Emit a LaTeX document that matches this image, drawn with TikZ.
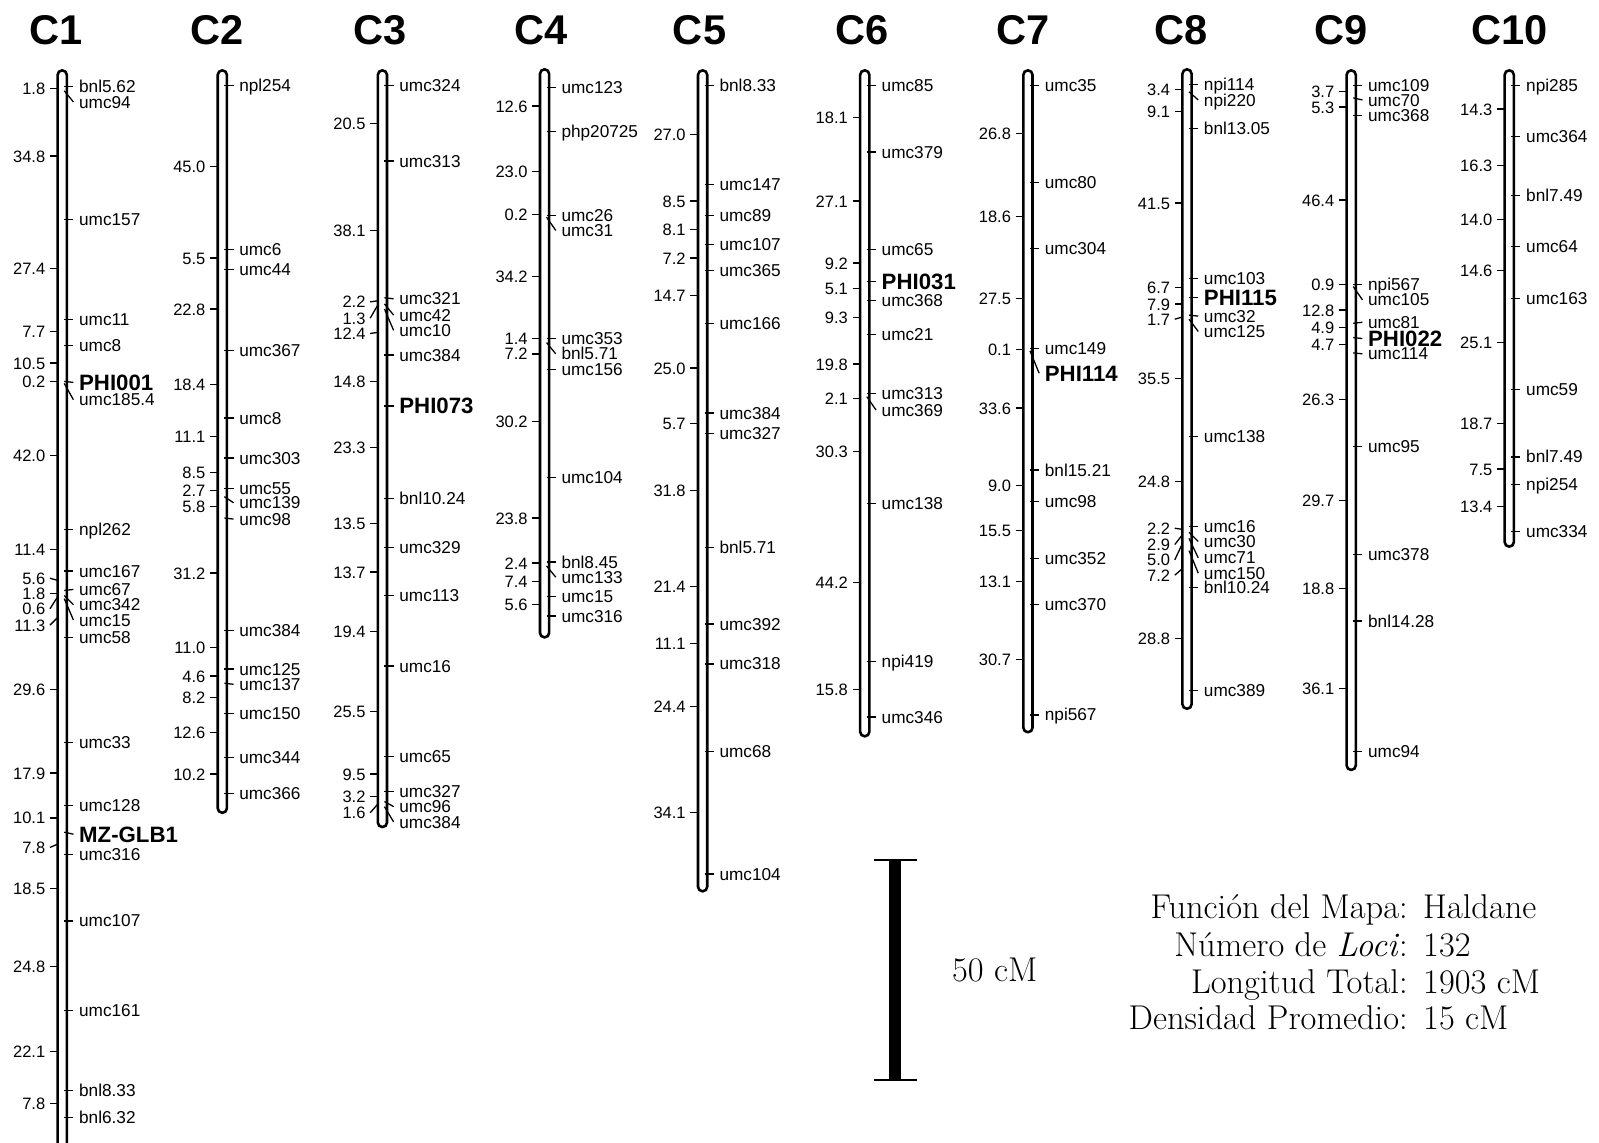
\documentclass[tikz,border=0pt]{standalone}
\usepackage{fontspec}
\setsansfont{Liberation Sans}
\usetikzlibrary{positioning}
\newcommand\bmk[1]{\raisebox{-1.3pt}{\fontsize{15.5}{16}\selectfont\bfseries #1}}
\tikzset{
  every picture/.style={font=\sffamily, line width=0.9pt},
  chrom/.style={draw, fill=white, line width=1.8pt, rounded corners=1.1mm},
  tick/.style={line width=0.9pt},
  locus/.style={font=\sffamily\fontsize{12}{13}\selectfont, anchor=base west, inner sep=0pt},
  dist/.style={font=\sffamily\fontsize{11.5}{12}\selectfont, anchor=base east, inner sep=0pt},
  title/.style={font=\sffamily\bfseries\fontsize{29}{30}\selectfont},
  legend/.style={font=\rmfamily\fontsize{24}{26}\selectfont, inner sep=0pt},
  scalebar/.style={line width=8.5pt},
}

\begin{document}
\begin{tikzpicture}[x=0.025cm, y=-0.025cm]
  \useasboundingbox (0,0) rectangle (1568,1120);
  \clip (0,0) rectangle (1568,1120);
  % chromosome titles
  \foreach \c/\x in {1/55, 2/213, 3/373, 4/531, 5/686, 6/845, 7/1003, 8/1158, 9/1315, 10/1480}
    \node[title] (t\c) at (\x, 30) {C\c};
  % C1
  \begin{scope}[shift={(61,0)}]
  \draw[chrom] (-4.5,69) rectangle (4.5,1140);
  \foreach \m/\t/\y [count=\i] in {bnl5.62/85/85, umc94/89/100, umc157/215/215, umc11/313/313, umc8/339/339, \bmk{PHI001}/374/375, umc185.4/376/392, npl262/519/519, umc167/560/560, umc67/579/578, umc342/584/593, umc15/587/608, umc58/625/625, umc33/728/728, umc128/790/790, \bmk{MZ-GLB1}/816/818, umc316/838/838, umc107/903/903, umc161/991/991, bnl8.33/1069/1069, bnl6.32/1096/1096} {
    \draw[tick] (2,\t) -- (11,\y);
    \node[locus] (c1m\i) at (16,\y+6) {\m};
  }
  \foreach \d/\y/\t [count=\i] in {1.8/87/87, 34.8/153/153, 27.4/263/263, 7.7/325/325, 10.5/356/356, 0.2/374/374, 42.0/447/447, 11.4/539/539, 5.6/567/569, 1.8/582/582, 0.6/597/586, 11.3/613/606, 29.6/676/676, 17.9/758/758, 10.1/802/802, 7.8/831/828, 18.5/871/871, 24.8/948/948, 22.1/1031/1031, 7.8/1082/1082} {
    \draw[tick] (-12,\y) -- (-5,\t);
    \node[dist] (c1d\i) at (-16,\y+6) {\d};
  }
  \end{scope}
  % C2
  \begin{scope}[shift={(218,0)}]
  \draw[chrom] (-4.5,69) rectangle (4.5,797);
  \foreach \m/\t/\y [count=\i] in {npl254/84/84, umc6/245/245, umc44/264/264, umc367/344/344, umc8/410/410, umc303/449/449, umc55/479/479, umc139/487/493, umc98/508/509, umc384/618/618, umc125/656/656, umc137/670/671, umc150/700/700, umc344/743/743, umc366/778/778} {
    \draw[tick] (2,\t) -- (11,\y);
    \node[locus] (c2m\i) at (16,\y+6) {\m};
  }
  \foreach \d/\y/\t [count=\i] in {45.0/163/163, 5.5/253/253, 22.8/303/303, 18.4/377/377, 11.1/428/428, 8.5/463/463, 2.7/481/481, 5.8/497/497, 31.2/562/562, 11.0/635/635, 4.6/663/663, 8.2/684/684, 12.6/718/718, 10.2/759/759} {
    \draw[tick] (-12,\y) -- (-5,\t);
    \node[dist] (c2d\i) at (-16,\y+6) {\d};
  }
  \end{scope}
  % C3
  \begin{scope}[shift={(375,0)}]
  \draw[chrom] (-4.5,69) rectangle (4.5,811);
  \foreach \m/\t/\y [count=\i] in {umc324/84/84, umc313/158/158, umc321/292/293, umc42/298/309, umc10/303/324, umc384/348/348, \bmk{PHI073}/398/398, bnl10.24/489/489, umc329/537/537, umc113/584/584, umc16/653/653, umc65/742/742, umc327/776/776, umc96/786/791, umc384/791/806} {
    \draw[tick] (2,\t) -- (11,\y);
    \node[locus] (c3m\i) at (16,\y+6) {\m};
  }
  \foreach \d/\y/\t [count=\i] in {20.5/121/121, 38.1/226/226, 2.2/296/295, 1.3/312/300, 12.4/327/326, 14.8/374/374, 23.3/439/439, 13.5/513/513, 13.7/561/561, 19.4/619/619, 25.5/698/698, 9.5/759/759, 3.2/781/781, 1.6/797/789} {
    \draw[tick] (-12,\y) -- (-5,\t);
    \node[dist] (c3d\i) at (-16,\y+6) {\d};
  }
  \end{scope}
  % C4
  \begin{scope}[shift={(534,0)}]
  \draw[chrom] (-4.5,68) rectangle (4.5,625);
  \foreach \m/\t/\y [count=\i] in {umc123/86/86, php20725/129/129, umc26/211/211, umc31/213/226, umc353/332/332, bnl5.71/336/347, umc156/362/362, umc104/468/468, bnl8.45/551/551, umc133/555/566, umc15/585/585, umc316/604/604} {
    \draw[tick] (2,\t) -- (11,\y);
    \node[locus] (c4m\i) at (16,\y+6) {\m};
  }
  \foreach \d/\y/\t [count=\i] in {12.6/104/104, 23.0/168/168, 0.2/210/210, 34.2/271/271, 1.4/332/332, 7.2/347/347, 30.2/413/413, 23.8/508/508, 2.4/552/552, 7.4/570/570, 5.6/593/593} {
    \draw[tick] (-12,\y) -- (-5,\t);
    \node[dist] (c4d\i) at (-16,\y+6) {\d};
  }
  \end{scope}
  % C5
  \begin{scope}[shift={(689,0)}]
  \draw[chrom] (-4.5,69) rectangle (4.5,874);
  \foreach \m/\t/\y [count=\i] in {bnl8.33/84/84, umc147/181/181, umc89/211/211, umc107/240/240, umc365/265/265, umc166/317/317, umc384/405/405, umc327/425/425, bnl5.71/537/537, umc392/612/612, umc318/651/651, umc68/737/737, umc104/857/857} {
    \draw[tick] (2,\t) -- (11,\y);
    \node[locus] (c5m\i) at (16,\y+6) {\m};
  }
  \foreach \d/\y/\t [count=\i] in {27.0/132/132, 8.5/197/197, 8.1/225/225, 7.2/253/253, 14.7/290/290, 25.0/361/361, 5.7/415/415, 31.8/481/481, 21.4/575/575, 11.1/631/631, 24.4/693/693, 34.1/797/797} {
    \draw[tick] (-12,\y) -- (-5,\t);
    \node[dist] (c5d\i) at (-16,\y+6) {\d};
  }
  \end{scope}
  % C6
  \begin{scope}[shift={(848,0)}]
  \draw[chrom] (-4.5,69) rectangle (4.5,722);
  \foreach \m/\t/\y [count=\i] in {umc85/84/84, umc379/149/149, umc65/245/245, \bmk{PHI031}/276/276, umc368/295/295, umc21/328/328, umc313/386/386, umc369/389/402, umc138/494/494, npi419/649/649, umc346/703/703} {
    \draw[tick] (2,\t) -- (11,\y);
    \node[locus] (c6m\i) at (16,\y+6) {\m};
  }
  \foreach \d/\y/\t [count=\i] in {18.1/115/115, 27.1/197/197, 9.2/258/258, 5.1/283/283, 9.3/311/311, 19.8/357/357, 2.1/391/391, 30.3/443/443, 44.2/571/571, 15.8/676/676} {
    \draw[tick] (-12,\y) -- (-5,\t);
    \node[dist] (c6d\i) at (-16,\y+6) {\d};
  }
  \end{scope}
  % C7
  \begin{scope}[shift={(1008,0)}]
  \draw[chrom] (-4.5,69) rectangle (4.5,718);
  \foreach \m/\t/\y [count=\i] in {umc35/84/84, umc80/179/179, umc304/244/244, umc149/342/342, \bmk{PHI114}/344/366, bnl15.21/461/461, umc98/492/492, umc352/548/548, umc370/593/593, npi567/701/701} {
    \draw[tick] (2,\t) -- (11,\y);
    \node[locus] (c7m\i) at (16,\y+6) {\m};
  }
  \foreach \d/\y/\t [count=\i] in {26.8/131/131, 18.6/212/212, 27.5/293/293, 0.1/343/343, 33.6/400/400, 9.0/476/476, 15.5/520/520, 13.1/570/570, 30.7/647/647} {
    \draw[tick] (-12,\y) -- (-5,\t);
    \node[dist] (c7d\i) at (-16,\y+6) {\d};
  }
  \end{scope}
  % C8
  \begin{scope}[shift={(1164,0)}]
  \draw[chrom] (-4.5,68) rectangle (4.5,695);
  \foreach \m/\t/\y [count=\i] in {npi114/83/83, npi220/90/98, bnl13.05/126/126, umc103/273/273, \bmk{PHI115}/292/292, umc32/309/310, umc125/313/325, umc138/428/428, umc16/516/516, umc30/522/531, umc71/528/547, umc150/540/562, bnl10.24/576/576, umc389/677/677} {
    \draw[tick] (2,\t) -- (11,\y);
    \node[locus] (c8m\i) at (16,\y+6) {\m};
  }
  \foreach \d/\y/\t [count=\i] in {3.4/88/88, 9.1/109/109, 41.5/199/199, 6.7/282/282, 7.9/298/298, 1.7/313/311, 35.5/371/371, 24.8/472/472, 2.2/518/519, 2.9/534/525, 5.0/549/534, 7.2/564/558, 28.8/626/626} {
    \draw[tick] (-12,\y) -- (-5,\t);
    \node[dist] (c8d\i) at (-16,\y+6) {\d};
  }
  \end{scope}
  % C9
  \begin{scope}[shift={(1325,0)}]
  \draw[chrom] (-4.5,69) rectangle (4.5,755);
  \foreach \m/\t/\y [count=\i] in {umc109/84/84, umc70/96/98, umc368/113/113, npi567/279/279, umc105/281/294, umc81/317/316, \bmk{PHI022}/331/332, umc114/346/347, umc95/438/438, umc378/544/544, bnl14.28/609/609, umc94/737/737} {
    \draw[tick] (2,\t) -- (11,\y);
    \node[locus] (c9m\i) at (16,\y+6) {\m};
  }
  \foreach \d/\y/\t [count=\i] in {3.7/90/90, 5.3/105/105, 46.4/196/196, 0.9/279/279, 12.8/304/304, 4.9/321/321, 4.7/338/338, 26.3/392/392, 29.7/491/491, 18.8/577/577, 36.1/675/675} {
    \draw[tick] (-12,\y) -- (-5,\t);
    \node[dist] (c9d\i) at (-16,\y+6) {\d};
  }
  \end{scope}
  % C10
  \begin{scope}[shift={(1480,0)}]
  \draw[chrom] (-4.5,69) rectangle (4.5,536);
  \foreach \m/\t/\y [count=\i] in {npi285/84/84, umc364/134/134, bnl7.49/192/192, umc64/242/242, umc163/293/293, umc59/382/382, bnl7.49/448/448, npi254/475/475, umc334/521/521} {
    \draw[tick] (2,\t) -- (11,\y);
    \node[locus] (c10m\i) at (16,\y+6) {\m};
  }
  \foreach \d/\y/\t [count=\i] in {14.3/107/107, 16.3/162/162, 14.0/215/215, 14.6/265/265, 25.1/336/336, 18.7/415/415, 7.5/460/460, 13.4/497/497} {
    \draw[tick] (-12,\y) -- (-5,\t);
    \node[dist] (c10d\i) at (-16,\y+6) {\d};
  }
  \end{scope}
  % scale bar
  \coordinate (sbt) at (878,843);
  \coordinate (sbb) at (878,1059);
  \draw[scalebar] (sbt) -- (sbb);
  \draw[line width=1.4pt] (sbt) ++(-21,0) -- ++(42,0);
  \draw[line width=1.4pt] (sbb) ++(-21,0) -- ++(42,0);
  \node[legend, anchor=base west] (sbl) at (933,962) {50 cM};
  % legend
  \foreach \k/\v/\y [count=\i] in {Función del Mapa:/Haldane/901, Número de \textit{Loci}:/132/938, Longitud Total:/1903 cM/974, Densidad Promedio:/15 cM/1010} {
    \node[legend, anchor=base east] (lk\i) at (1381,\y) {\k};
    \node[legend, anchor=base west] (lv\i) at (1395,\y) {\v};
  }
\end{tikzpicture}
\end{document}
